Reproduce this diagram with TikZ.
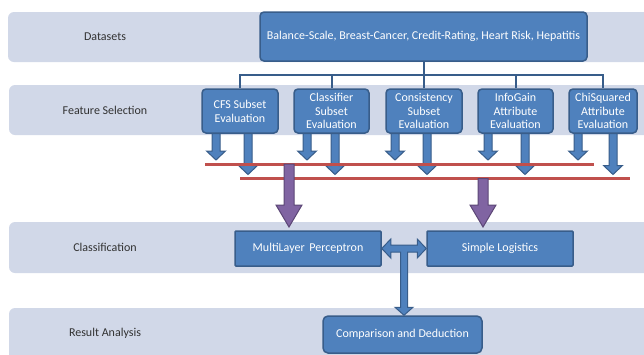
\documentclass[tikz,border=0pt]{standalone}
\usepackage{fontspec}
\setmainfont{Carlito}
\usetikzlibrary{calc}

\definecolor{bandfill}{RGB}{209,216,232}
\definecolor{boxfill}{RGB}{79,129,189}
\definecolor{boxline}{RGB}{56,93,138}
\definecolor{redline}{RGB}{192,80,77}
\definecolor{purplefill}{RGB}{128,100,162}
\definecolor{purpleline}{RGB}{92,71,118}
\definecolor{labeltext}{RGB}{50,50,50}

\tikzset{
  band/.style={fill=bandfill, draw=none, rounded corners=6pt},
  bandlabel/.style={text=labeltext, font=\fontsize{12}{14}\selectfont},
  bluebox/.style={fill=boxfill, draw=boxline, line width=1.5pt, rounded corners=4pt,
    text=white, font=\fontsize{12}{13.8}\selectfont, align=center, inner sep=0pt},
  tree/.style={draw=boxline, line width=2pt},
  redbar/.style={draw=redline, line width=3pt},
  bluearrow/.style={fill=boxfill, draw=boxline, line width=1pt, line join=miter},
  purplearrow/.style={fill=purplefill, draw=purpleline, line width=1pt, line join=miter},
}

% vertical block arrow: style, start, tip, shaft half width, head half width, head length
\newcommand\blockdown[6]{%
  \draw[#1] let \p1=(#2), \p2=(#3) in
    (\x1-#4,\y1) -- (\x1-#4,\y2+#6) -- (\x1-#5,\y2+#6) -- (\x1,\y2)
    -- (\x1+#5,\y2+#6) -- (\x1+#4,\y2+#6) -- (\x1+#4,\y1) -- cycle;}

\begin{document}
\begin{tikzpicture}[x=1pt, y=-1pt]
  \useasboundingbox (0,0) rectangle (644,354);
  \clip (0,0) rectangle (644,354);
  \fill[white] (0,0) rectangle (644,354);

  % lanes
  \path[band] (8,12) rectangle (660,62);
  \path[band] (9,85) rectangle (660,135);
  \path[band] (9,222) rectangle (660,273);
  \path[band] (9,308) rectangle (660,370);

  \node[bandlabel] (lds)  at (105,37)  {Datasets};
  \node[bandlabel] (lfs)  at (105,110) {Feature Selection};
  \node[bandlabel] (lcl)  at (105,247) {Classification};
  \node[bandlabel] (lra)  at (105,333) {Result Analysis};

  % datasets
  \node[bluebox, minimum width=327pt, minimum height=49pt] (ds) at (423.5,36.5)
    {Balance-Scale, Breast-Cancer, Credit-Rating, Heart Risk, Hepatitis};

  % feature selection methods
  \node[bluebox, minimum width=76pt, minimum height=44pt] (cfs)  at (240,111)   {CFS Subset\\Evaluation};
  \node[bluebox, minimum width=75pt, minimum height=44pt] (cls)  at (331.5,111) {Classifier\\Subset\\Evaluation};
  \node[bluebox, minimum width=76pt, minimum height=44pt] (cons) at (424,111)   {Consistency\\Subset\\Evaluation};
  \node[bluebox, minimum width=75pt, minimum height=44pt] (info) at (515.5,111) {InfoGain\\Attribute\\Evaluation};
  \node[bluebox, minimum width=68pt, minimum height=44pt] (chi)  at (603,111)   {ChiSquared\\Attribute\\Evaluation};

  % tree from datasets to the methods
  \coordinate (bus) at (423.5,75);
  \draw[tree] (ds.south) -- (bus);
  \draw[tree] (cfs.north) |- (bus) -| (chi.north);
  \draw[tree] (cls.north) -- (cls.north |- bus);
  \draw[tree] (cons.north) -- (cons.north |- bus);
  \draw[tree] (info.north) -- (info.north |- bus);

  % two outputs of each method
  \foreach \bx/\sx/\lx in {cfs/216/248, cls/307/335, cons/395/427, info/488/525, chi/578/613} {
    \coordinate (\bx-a) at (\sx,133.5);
    \coordinate (\bx-at) at (\sx,160);
    \coordinate (\bx-b) at (\lx,133.5);
    \coordinate (\bx-bt) at (\lx,174.5);
    \blockdown{bluearrow}{\bx-a}{\bx-at}{4pt}{9.5pt}{9pt}
    \blockdown{bluearrow}{\bx-b}{\bx-bt}{4pt}{9.5pt}{9pt}
  }

  % collecting bars
  \coordinate (r1a) at (205,164);
  \coordinate (r1b) at (594,164);
  \coordinate (r2a) at (240,178.5);
  \coordinate (r2b) at (630,178.5);
  \draw[redbar] (r1a) -- (r1b);
  \draw[redbar] (r2a) -- (r2b);

  % classifiers
  \node[bluebox, rounded corners=1pt, minimum width=146pt, minimum height=35pt] (mlp) at (308,248.5) {MultiLayer\, Perceptron};
  \node[bluebox, rounded corners=1pt, minimum width=146pt, minimum height=35pt] (sl)  at (500,248.5) {Simple Logistics};

  % bars feeding the classifiers
  \coordinate (p1s) at (289,164);
  \coordinate (p1t) at (289,227);
  \coordinate (p2s) at (483,178.5);
  \coordinate (p2t) at (483,227);
  \blockdown{purplearrow}{p1s}{p1t}{5pt}{13pt}{22pt}
  \blockdown{purplearrow}{p2s}{p2t}{5pt}{13pt}{22pt}

  % result analysis
  \node[bluebox, rounded corners=5pt, minimum width=159pt, minimum height=37pt] (cmp) at (402.5,334.5) {Comparison and Deduction};

  % double arrow between classifiers with a branch down to the comparison
  \draw[bluearrow] let \p1=(mlp.east), \p2=(sl.west), \p3=(cmp.north),
      \p4=($(\p1)!0.5!(\p2)$) in
    (\x1,\y1) -- (\x1+9pt,\y1+9.5pt) -- (\x1+9pt,\y1+3.5pt) -- (\x2-9pt,\y1+3.5pt)
    -- (\x2-9pt,\y1+9.5pt) -- (\x2,\y1) -- (\x2-9pt,\y1-9.5pt) -- (\x2-9pt,\y1-3.5pt)
    -- (\x4+3.5pt,\y1-3.5pt) -- (\x4+3.5pt,\y3+8pt) -- (\x4+9pt,\y3+8pt) -- (\x4,\y3)
    -- (\x4-9pt,\y3+8pt) -- (\x4-3.5pt,\y3+8pt) -- (\x4-3.5pt,\y1-3.5pt)
    -- (\x1+9pt,\y1-3.5pt) -- (\x1+9pt,\y1-9.5pt) -- cycle;
\end{tikzpicture}
\end{document}
